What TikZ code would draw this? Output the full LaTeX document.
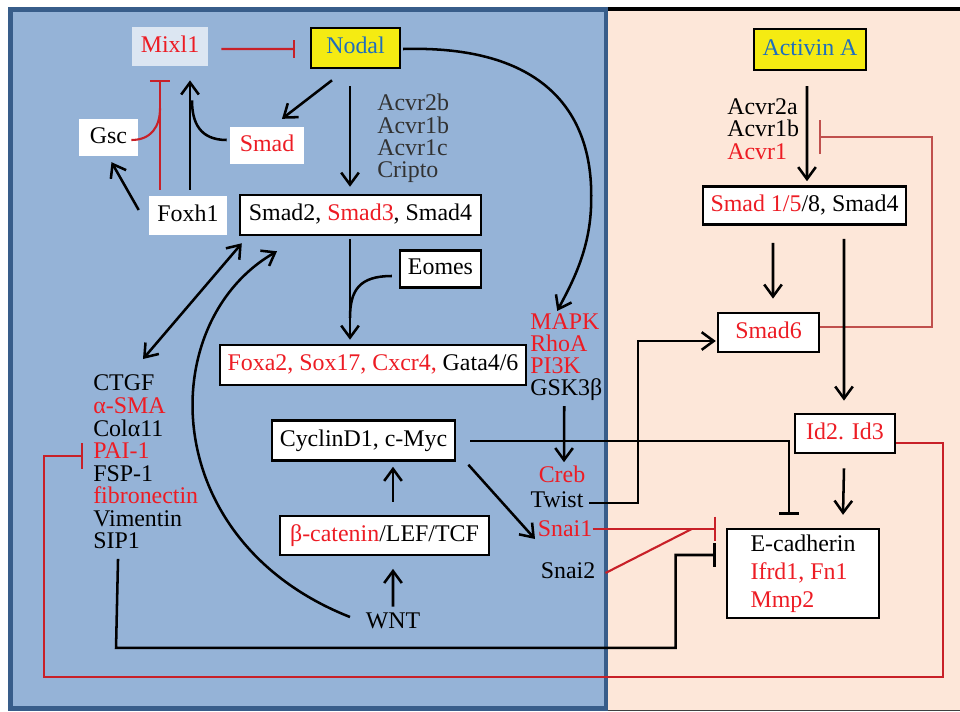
\documentclass[tikz,border=0pt]{standalone}
\usepackage{fontspec}
\setmainfont{Liberation Serif}
\usetikzlibrary{arrows.meta,calc}

\definecolor{panelblue}{RGB}{149,179,215}
\definecolor{panelborder}{RGB}{56,93,138}
\definecolor{peach}{RGB}{253,231,217}
\definecolor{mixlfill}{RGB}{220,230,242}
\definecolor{ligandyellow}{RGB}{245,235,18}
\definecolor{ligandblue}{RGB}{31,110,190}
\definecolor{genred}{RGB}{237,28,36}
\definecolor{inhred}{RGB}{200,32,40}
\definecolor{smadsixred}{RGB}{192,80,77}
\definecolor{labelgray}{RGB}{50,50,50}

\begin{document}
\begin{tikzpicture}[
  x=0.025cm, y=-0.025cm,
  >={Straight Barb[length=3mm,width=4.4mm]},
  font=\fontsize{17}{15.8}\selectfont,
  txt/.style={inner sep=0pt, text height=11.5pt, text depth=3.5pt},
  box/.style={draw, line width=1.8pt, fill=white, txt, minimum height=1cm},
  plainbox/.style={fill=white, txt},
  act/.style={->, line width=1.8pt},
  link/.style={line width=1.8pt},
  inh/.style={-{Bar[width=#1]}, line width=1.8pt},
  inh/.default=5mm
]
\useasboundingbox (0,0) rectangle (960,711);
% Panels
\fill[white] (0,0) rectangle (960,711);
\fill[peach] (606,9) rectangle (960,711);
\draw[line width=3pt] (606,9) -- (960,9);
\draw[black!75, line width=0.8pt] (606,710.5) -- (960,710.5);
\draw[panelborder, fill=panelblue, line width=3.5pt] (10.5,9.5) rectangle (606,708.5);

% Nodal side
\node[fill=mixlfill, txt, minimum width=1.9cm, minimum height=0.98cm, text=genred] (mixl) at (170,46.5) {Mixl1};
\node[box, fill=ligandyellow, minimum width=2.22cm, text=ligandblue] (nodal) at (355.5,48) {Nodal};
\node[plainbox, minimum width=1.48cm, minimum height=0.92cm] (gsc) at (108.5,137.5) {Gsc};
\node[plainbox, minimum width=1.85cm, minimum height=0.92cm, text=genred] (smad) at (267,145.5) {Smad};
\node[plainbox, minimum width=1.95cm, minimum height=0.98cm] (foxh) at (188,215.5) {Foxh1};
\node[box, minimum width=6.02cm] (smadbox) at (360.5,215) {Smad2, \textcolor{genred}{Smad3}, Smad4};
\node[inner sep=0pt, align=left, anchor=west, text=labelgray] (recep) at (377,138.5) {Acvr2b\\Acvr1b\\Acvr1c\\Cripto};
\node[box, minimum width=2.02cm, minimum height=0.92cm] (eomes) at (440.5,269) {Eomes};
\node[box, minimum width=7.65cm] (foxa) at (373,365) {\textcolor{genred}{Foxa2, Sox17, Cxcr4,} Gata4/6};
\node[inner sep=0pt, align=left, anchor=west] (mapk) at (530,357) {\textcolor{genred}{MAPK}\\\textcolor{genred}{RhoA}\\\textcolor{genred}{PI3K}\\GSK3β};

% EMT markers
\node[txt, anchor=west] (ctgf) at (93,385) {CTGF};
\node[txt, anchor=west, text=genred] (sma) at (93,408) {α-SMA};
\node[txt, anchor=west] (col) at (93,430.5) {Colα11};
\node[txt, anchor=west, text=genred] (pai) at (93,453) {PAI-1};
\node[txt, anchor=west] (fsp) at (93,475.5) {FSP-1};
\node[txt, anchor=west, text=genred] (fibro) at (93,498) {fibronectin};
\node[txt, anchor=west] (vim) at (93,520.5) {Vimentin};
\node[txt, anchor=west] (sip) at (93,543) {SIP1};

% Wnt branch
\node[box, minimum width=4.58cm] (cyclin) at (363.5,440.5) {CyclinD1, c-Myc};
\node[box, minimum width=5.22cm, minimum height=0.98cm] (beta) at (384.5,535.5) {\textcolor{genred}{β-catenin}/LEF/TCF};
\node[txt] (wnt) at (393,623) {WNT};
\node[txt, text=genred] (creb) at (562,477) {Creb};
\node[txt] (twist) at (557,502) {Twist};
\node[txt, text=genred] (snai1) at (565,531) {Snai1};
\node[txt] (snai2) at (568,573) {Snai2};

% Activin side
\node[box, fill=ligandyellow, minimum width=2.8cm, minimum height=1.02cm, text=ligandblue] (activin) at (810,49.5) {Activin A};
\node[inner sep=0pt, align=left, anchor=west] (acvr) at (727,129) {Acvr2a\\Acvr1b\\\textcolor{genred}{Acvr1}};
\node[box, minimum width=5.08cm, minimum height=0.95cm] (smadfive) at (804.5,205.5) {\textcolor{genred}{Smad 1/5}/8, Smad4};
\node[box, minimum width=2.52cm, minimum height=0.98cm, text=genred] (smadsix) at (768.5,332.5) {Smad6};
\node[box, minimum width=2.5cm, minimum height=0.98cm, text=genred] (idbox) at (845,433.5) {Id2. Id3};
\node[draw, line width=1.8pt, fill=white, minimum width=3.8cm, minimum height=2.22cm, align=left,
  font=\fontsize{17}{19.8}\selectfont] (ecad) at (803,573.5)
  {E-cadherin\\\textcolor{genred}{Ifrd1, Fn1}\\\textcolor{genred}{Mmp2}};

% Connectors, Nodal side
\draw[inh=4.4mm, inhred, line width=1.5pt] ($(mixl.east)+(13,2.5)$) -- ($(nodal.west)+(-15,1)$);
\draw[act] ($(nodal.south)+(-23.5,11)$) -- ($(smad.north)+(15,-8)$);
\draw[act] ($(nodal.south)+(-5.5,17)$) -- ($(smadbox.north)+(-10.5,-7)$);
\draw[act] ($(nodal.east)+(2,1)$) .. controls +(138,-4) and +(2,-90) .. ($(nodal.east)+(190,152)$)
  .. controls +(0,50) and +(13,-25) .. ($(mapk.north)+(-9,-2)$);
\draw[link] ($(smad.west)+(-3,-5.5)$) .. controls +(-27,0) and +(0,22) .. ($(mixl.south)+(22,34)$);
\draw[act] ($(foxh.north)+(2,-6)$) -- ($(mixl.south)+(20,14)$);
\draw[inh=5mm, inhred, line width=1.5pt] ($(foxh.north)+(-28,-6)$) -- ($(mixl.south)+(-10,14)$);
\draw[inhred, line width=1.5pt] ($(gsc.east)+(-7,2.5)$) .. controls +(20,0) and +(0,18) .. ($(mixl.south)+(-10,42)$);
\draw[act] ($(foxh.west)+(-10,-5.5)$) -- ($(gsc.south)+(3,6)$);
\draw[link, <->] ($(smadbox.south west)+(3,7)$) -- ($(ctgf.west)+(50,-26)$);
\draw[act] ($(wnt.west)+(-15.5,-6)$) .. controls +(-195,-77) and +(-122,70) .. ($(smadbox.south)+(-83.5,15)$);
\draw[act] ($(smadbox.south)+(-10.5,3)$) -- ($(foxa.north)+(-23,-4)$);
\draw[link] ($(eomes.west)+(-7,7)$) .. controls +(-32,0) and +(0,-28) .. ($(foxa.north)+(-23,-26)$);
\draw[act] ($(mapk.south)+(-2,5)$) -- ($(creb.north)+(2,-4)$);

% Connectors, Wnt branch
\draw[act] ($(cyclin.south east)+(12,3)$) -- ($(snai1.west)+(-2.5,8)$);
\draw[inh=4.8mm] ($(cyclin.east)+(14,0.5)$) -| ($(ecad.north)+(-14,-13)$);
\draw[act] ($(beta.north)+(8.5,-13)$) -- ($(cyclin.south)+(29.5,5)$);
\draw[act] ($(wnt.north)+(0,-5.5)$) -- ($(beta.south)+(8.5,12.5)$);
\draw[inh=6mm] ($(sip.south)+(1.5,5)$) -- ++(-2,89) -| ($(ecad.west)+(-50,-18.5)$) -- ($(ecad.west)+(-10,-18.5)$);
\draw[inh=6.2mm, inhred, line width=1.5pt] ($(snai1.east)+(0,-2)$) -- ($(ecad.west)+(-10,-44.5)$);
\draw[inhred, line width=1.5pt] ($(snai2.east)+(10,0)$) -- ($(ecad.west)+(-34,-44.5)$);
\draw[act] ($(twist.east)+(5.5,1)$) -| ($(smadsix.west)+(-79,8.5)$) -- ($(smadsix.west)+(-1,8.5)$);

% Connectors, Activin side
\draw[act] ($(activin.south)+(-3,15)$) -- ($(smadfive.north)+(2.5,-4)$);
\draw[inh=8.5mm, smadsixred, line width=1.4pt] ($(smadsix.east)+(0,-5.5)$) -| ($(acvr.east)+(133,8)$) -- ($(acvr.east)+(20,8)$);
\draw[act] ($(smadfive.south)+(-31.5,17)$) -- ($(smadsix.north)+(4.5,-13)$);
\draw[act] ($(smadfive.south)+(39.5,13)$) -- ($(idbox.north)+(-1,-12)$);
\draw[act] ($(idbox.south)+(-1,14)$) -- ($(ecad.north)+(40,-13)$);
\draw[inh=6.5mm, inhred, line width=1.5pt] ($(idbox.east)+(0,9.5)$) -| ($(idbox.east)+(47,243.5)$)
  -| ($(pai.west)+(-49,3)$) -- ($(pai.west)+(-10,3)$);

\end{tikzpicture}
\end{document}
